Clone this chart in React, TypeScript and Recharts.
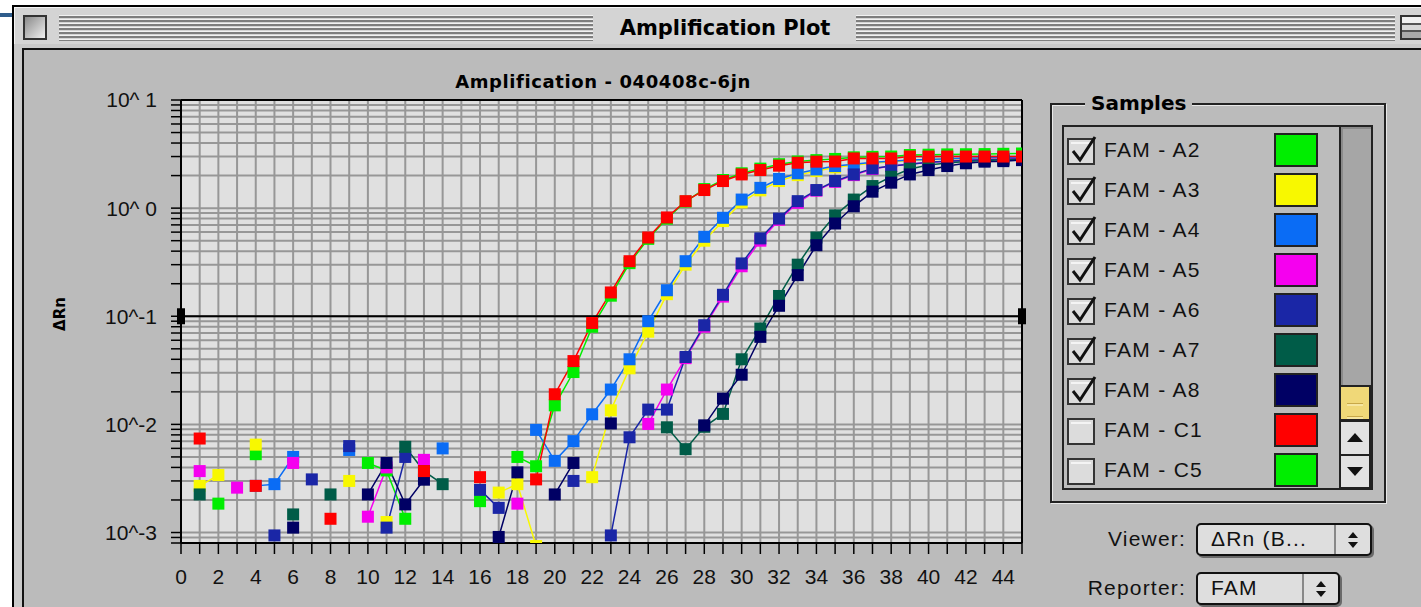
import React from 'react';
import {
    LineChart,
    Line,
    XAxis,
    YAxis,
    CartesianGrid,
    ReferenceLine,
    ReferenceDot,
} from 'recharts';

// cycle numbers
const cycles = [
    1, 2, 3, 4, 5, 6, 7, 8, 9, 10, 11, 12, 13, 14, 15, 16, 17, 18, 19, 20, 21, 22, 23,
    24, 25, 26, 27, 28, 29, 30, 31, 32, 33, 34, 35, 36, 37, 38, 39, 40, 41, 42, 43, 44, 45,
];

// delta Rn per cycle (null = negative, not drawn on the log axis)
const famA2 = [
    null, 0.00185, null, 0.0053, null, null, null, null, null, 0.0044,
    0.00375, 0.00134, null, null, null, 0.00195, null, 0.005, 0.0041, 0.015,
    0.0305, 0.08, 0.155, 0.31, 0.52, 0.8, 1.15, 1.5, 1.82, 2.1,
    2.32, 2.55, 2.7, 2.78, 2.85, 2.95, 2.98, 3.0, 3.1, 3.12,
    3.14, 3.15, 3.16, 3.18, 3.2,
];
const famA3 = [
    0.0027, 0.0034, null, 0.0065, null, null, null, null, 0.003, null,
    0.00125, null, null, null, null, null, 0.00234, 0.0028, 0.00075, null,
    null, 0.00325, 0.0135, 0.033, 0.072, 0.16, 0.3, 0.5, 0.76, 1.13,
    1.46, 1.78, 2.02, 2.2, 2.38, 2.5, 2.6, 2.68, 2.75, 2.8,
    2.85, 2.88, 2.9, 2.92, 2.95,
];
const famA4 = [
    null, null, null, 0.0027, 0.0028, 0.005, null, null, 0.0058, null,
    null, null, null, 0.006, null, null, null, null, 0.0089, 0.0046,
    0.007, 0.0124, 0.021, 0.04, 0.09, 0.174, 0.323, 0.543, 0.814, 1.2,
    1.54, 1.86, 2.1, 2.28, 2.45, 2.55, 2.65, 2.72, 2.78, 2.82,
    2.86, 2.9, 2.92, 2.94, 2.96,
];
const famA5 = [
    0.0037, null, 0.0026, null, null, 0.0044, null, null, null, 0.0014,
    0.004, null, 0.0047, null, null, null, null, 0.00185, null, null,
    null, null, null, null, 0.0101, 0.021, 0.041, 0.08, 0.152, 0.29,
    0.5, 0.78, 1.12, 1.45, 1.75, 2.02, 2.3, 2.45, 2.55, 2.65,
    2.72, 2.78, 2.82, 2.85, 2.88,
];
const famA6 = [
    null, null, null, null, 0.00094, null, 0.0031, null, 0.0063, null,
    0.00111, 0.005, null, null, null, 0.00248, 0.00169, null, null, null,
    0.003, null, 0.00094, 0.0076, 0.0137, 0.0137, 0.042, 0.0826, 0.158, 0.308,
    0.525, 0.8, 1.16, 1.47, 1.78, 2.05, 2.33, 2.45, 2.55, 2.65,
    2.72, 2.76, 2.8, 2.82, 2.85,
];
const famA7 = [
    0.00225, null, null, null, null, 0.00147, null, 0.00225, null, null,
    null, 0.0062, 0.0037, 0.0028, null, null, null, null, null, null,
    null, null, null, null, null, 0.0094, 0.0059, 0.0095, 0.0125, 0.04,
    0.077, 0.154, 0.3, 0.535, 0.857, 1.2, 1.6, 1.95, 2.3, 2.5,
    2.62, 2.7, 2.75, 2.8, 2.82,
];
const famA8 = [
    null, null, null, null, null, 0.00111, null, null, null, 0.00225,
    0.0044, 0.00182, 0.00308, null, null, null, 0.00091, 0.0036, null, 0.00225,
    0.0044, null, 0.0102, null, null, null, null, 0.0098, 0.0173, 0.0288,
    0.0645, 0.125, 0.24, 0.454, 0.721, 1.04, 1.42, 1.72, 2.05, 2.25,
    2.45, 2.6, 2.69, 2.72, 2.78,
];
const famC1 = [
    0.0074, null, null, 0.0027, null, null, null, 0.00134, null, null,
    null, null, 0.0037, null, null, 0.00325, null, null, 0.0031, 0.019,
    0.0385, 0.0867, 0.166, 0.323, 0.535, 0.82, 1.16, 1.47, 1.78, 2.05,
    2.25, 2.47, 2.63, 2.69, 2.7, 2.88, 2.88, 2.88, 3.0, 3.0,
    3.0, 3.0, 3.0, 3.0, 3.0,
];

const seriesKeys = ['a2', 'a3', 'a4', 'a5', 'a6', 'a7', 'a8', 'c1'];
const seriesColors = ['#00ee00', '#f8f800', '#0a6cf5', '#f500ef', '#1a26a6', '#005c48', '#000064', '#ff0000'];

// list on the right
const sampleNames = ['FAM - A2', 'FAM - A3', 'FAM - A4', 'FAM - A5', 'FAM - A6', 'FAM - A7', 'FAM - A8', 'FAM - C1', 'FAM - C5'];
const sampleColors = ['#00ee00', '#f8f800', '#0a6cf5', '#f500ef', '#1a26a6', '#005c48', '#000064', '#ff0000', '#00ee00'];
const sampleChecked = [true, true, true, true, true, true, true, false, false];

const xTicks = [
    0, 1, 2, 3, 4, 5, 6, 7, 8, 9, 10, 11, 12, 13, 14, 15, 16, 17, 18, 19, 20, 21, 22, 23,
    24, 25, 26, 27, 28, 29, 30, 31, 32, 33, 34, 35, 36, 37, 38, 39, 40, 41, 42, 43, 44, 45,
];
const decades = [0.001, 0.01, 0.1, 1, 10];
const decadeLabels = ['10^-3', '10^-2', '10^-1', '10^ 0', '10^ 1'];

const yTicks: number[] = [0.0008, 0.0009];
decades.slice(0, 4).forEach((d) => {
    for (let m = 1; m < 10; m++) yTicks.push(m * d);
});
yTicks.push(10);

const data = cycles.map((c, i) => ({
    cycle: c,
    a2: famA2[i],
    a3: famA3[i],
    a4: famA4[i],
    a5: famA5[i],
    a6: famA6[i],
    a7: famA7[i],
    a8: famA8[i],
    c1: famC1[i],
}));

const FONT = '"Liberation Sans", Arial, sans-serif';
const BOLD_FONT = '"DejaVu Sans", "Liberation Sans", sans-serif';

const fmtY = (v: number) => {
    const i = decades.findIndex((d) => Math.abs(v - d) / d < 1e-6);
    return i >= 0 ? decadeLabels[i] : '';
};
const fmtX = (v: number) => (v % 2 === 0 && v <= 44 ? String(v) : '');

const squareDot = (color: string) => (props: any) => {
    const { cx, cy, value, index } = props;
    if (value == null || cx == null || cy == null || Number.isNaN(cy)) return <g key={index} />;
    return <rect key={index} x={cx - 6} y={cy - 6} width={12} height={12} fill={color} />;
};

const thresholdMark = (props: any) => (
    <rect x={props.cx - 4} y={props.cy - 8} width={8} height={16} fill="#000" />
);

function CheckBox({ checked, top }: { checked: boolean; top: number }) {
    return (
        <svg style={{ position: 'absolute', left: 1066, top: top - 16 }} width={34} height={32}>
            <rect x={2} y={5} width={26} height={25} fill="#dcdcdc" stroke="#333" strokeWidth={2} />
            <rect x={5} y={8} width={20} height={2} fill="#f4f4f4" />
            {checked && (
                <path d="M7 17 L14 26 L29 3" fill="none" stroke="#111" strokeWidth={3} />
            )}
        </svg>
    );
}

function PopupArrows({ left, top }: { left: number; top: number }) {
    return (
        <svg style={{ position: 'absolute', left, top }} width={16} height={20}>
            <path d="M3 8 L8 2 L13 8 Z" fill="#111" />
            <path d="M3 12 L8 18 L13 12 Z" fill="#111" />
        </svg>
    );
}

const stripes = 'repeating-linear-gradient(to bottom, #f2f2f2 0px, #f2f2f2 1.5px, #7e7e7e 1.5px, #7e7e7e 3px, #d4d4d4 3px, #d4d4d4 4px)';

export default function App() {
    return (
        <div
            style={{
                position: 'absolute',
                left: 0,
                top: 0,
                width: 1421,
                height: 607,
                overflow: 'hidden',
                background: '#ffffff',
                fontFamily: FONT,
            }}
        >
            {/* blue stub at the far left */}
            <div style={{ position: 'absolute', left: 0, top: 13, width: 13, height: 4, background: '#2f5d8c' }} />

            {/* window frame */}
            <div
                style={{
                    position: 'absolute',
                    left: 12,
                    top: 5,
                    width: 1420,
                    height: 610,
                    background: '#c9c9c9',
                    borderLeft: '2px solid #000',
                    borderTop: '2px solid #000',
                    boxSizing: 'border-box',
                }}
            />
            {/* title bar */}
            <div
                style={{
                    position: 'absolute',
                    left: 14,
                    top: 7,
                    width: 1410,
                    height: 37,
                    background: '#d4d4d4',
                    borderTop: '1px solid #f4f4f4',
                    borderLeft: '1px solid #f4f4f4',
                    boxSizing: 'border-box',
                }}
            />
            <div
                style={{
                    position: 'absolute',
                    left: 23,
                    top: 15,
                    width: 24,
                    height: 25,
                    boxSizing: 'border-box',
                    border: '2px solid #333',
                    background: 'linear-gradient(135deg, #8a8a8a, #f0f0f0)',
                }}
            />
            <div style={{ position: 'absolute', left: 59, top: 15, width: 534, height: 26, background: stripes }} />
            <div style={{ position: 'absolute', left: 856, top: 15, width: 539, height: 26, background: stripes }} />
            <div
                style={{
                    position: 'absolute',
                    left: 596,
                    top: 13,
                    width: 258,
                    textAlign: 'center',
                    fontWeight: 'bold',
                    fontFamily: BOLD_FONT,
                    fontSize: 21,
                    lineHeight: '30px',
                    color: '#000',
                }}
            >
                Amplification Plot
            </div>
            <div
                style={{
                    position: 'absolute',
                    left: 1400,
                    top: 15,
                    width: 26,
                    height: 25,
                    boxSizing: 'border-box',
                    border: '2px solid #333',
                    background: 'linear-gradient(to bottom, #f0f0f0 0 30%, #555 30% 38%, #d8d8d8 38% 62%, #555 62% 70%, #aaa 70%)',
                }}
            />

            {/* content panel */}
            <div
                style={{
                    position: 'absolute',
                    left: 22,
                    top: 48,
                    width: 1410,
                    height: 570,
                    background: '#bbbbbb',
                    borderLeft: '2px solid #111',
                    borderTop: '2px solid #111',
                    boxSizing: 'border-box',
                }}
            />

            {/* chart title and y label */}
            <div
                style={{
                    position: 'absolute',
                    left: 403,
                    top: 70,
                    width: 400,
                    textAlign: 'center',
                    fontWeight: 'bold',
                    fontFamily: BOLD_FONT,
                    fontSize: 18,
                    letterSpacing: 0.6,
                    lineHeight: '24px',
                    color: '#000',
                }}
            >
                Amplification - 040408c-6jn
            </div>
            <div
                style={{
                    position: 'absolute',
                    left: 30,
                    top: 304,
                    width: 60,
                    textAlign: 'center',
                    fontWeight: 'bold',
                    fontFamily: BOLD_FONT,
                    fontSize: 15,
                    lineHeight: '20px',
                    transform: 'rotate(-90deg)',
                    color: '#000',
                }}
            >
                ΔRn
            </div>

            {/* chart */}
            <div style={{ position: 'absolute', left: 0, top: 60 }}>
                <LineChart
                    width={1040}
                    height={544}
                    data={data}
                    margin={{ top: 40, right: 18, bottom: 0, left: 0 }}
                >
                    <CartesianGrid stroke="#979797" strokeWidth={2} fill="#e0e0e0" fillOpacity={1} />
                    <XAxis
                        type="number"
                        dataKey="cycle"
                        domain={[0, 45]}
                        allowDataOverflow
                        ticks={xTicks}
                        interval={0}
                        tickFormatter={fmtX}
                        height={61}
                        tickSize={11}
                        tickMargin={15}
                        axisLine={{ stroke: '#000', strokeWidth: 2 }}
                        tickLine={{ stroke: '#000', strokeWidth: 1.5 }}
                        tick={{ fill: '#111', fontSize: 21, fontFamily: FONT }}
                    />
                    <YAxis
                        type="number"
                        scale="log"
                        domain={[0.0008, 10]}
                        allowDataOverflow
                        ticks={yTicks}
                        interval={0}
                        tickFormatter={fmtY}
                        width={181}
                        tickSize={10}
                        tickMargin={14}
                        axisLine={{ stroke: '#000', strokeWidth: 2 }}
                        tickLine={{ stroke: '#000', strokeWidth: 1.5 }}
                        tick={{ fill: '#111', fontSize: 21, fontFamily: FONT }}
                    />
                    <ReferenceLine y={10} stroke="#000" strokeWidth={2} />
                    <ReferenceLine x={45} stroke="#000" strokeWidth={2} />
                    {seriesKeys.map((k, i) => (
                        <Line
                            key={k}
                            type="linear"
                            dataKey={k}
                            stroke={seriesColors[i]}
                            strokeWidth={1.5}
                            dot={squareDot(seriesColors[i])}
                            activeDot={false}
                            connectNulls={false}
                            isAnimationActive={false}
                        />
                    ))}
                    <ReferenceLine y={0.1} stroke="#000" strokeWidth={2} />
                    <ReferenceDot x={0} y={0.1} shape={thresholdMark} />
                    <ReferenceDot x={45} y={0.1} shape={thresholdMark} />
                </LineChart>
            </div>

            {/* Samples group */}
            <div
                style={{
                    position: 'absolute',
                    left: 1050,
                    top: 103,
                    width: 336,
                    height: 400,
                    boxSizing: 'border-box',
                    border: '2px solid #222',
                    boxShadow: 'inset 1px 1px 0 #e8e8e8, 1px 1px 0 #e8e8e8',
                }}
            />
            <div
                style={{
                    position: 'absolute',
                    left: 1085,
                    top: 89,
                    padding: '0 6px',
                    background: '#bbbbbb',
                    fontWeight: 'bold',
                    fontFamily: BOLD_FONT,
                    fontSize: 20,
                    lineHeight: '28px',
                    color: '#000',
                }}
            >
                Samples
            </div>
            <div
                style={{
                    position: 'absolute',
                    left: 1062,
                    top: 125,
                    width: 311,
                    height: 365,
                    boxSizing: 'border-box',
                    border: '2px solid #222',
                    overflow: 'hidden',
                    background: '#bcbcbc',
                }}
            />
            {sampleNames.map((name, i) => {
                const cy = 150 + i * 40;
                return (
                    <React.Fragment key={name}>
                        <CheckBox checked={sampleChecked[i]} top={cy} />
                        <div
                            style={{
                                position: 'absolute',
                                left: 1104,
                                top: cy - 13,
                                fontSize: 21,
                                letterSpacing: 1.3,
                                lineHeight: '26px',
                                color: '#111',
                            }}
                        >
                            {name}
                        </div>
                        <div
                            style={{
                                position: 'absolute',
                                left: 1274,
                                top: cy - 17,
                                width: 44,
                                height: Math.min(34, 488 - (cy - 17)),
                                boxSizing: 'border-box',
                                border: '2px solid #222',
                                borderBottomWidth: cy - 17 + 34 > 488 ? 0 : 2,
                                background: sampleColors[i],
                            }}
                        />
                    </React.Fragment>
                );
            })}
            {/* scrollbar */}
            <div
                style={{
                    position: 'absolute',
                    left: 1339,
                    top: 127,
                    width: 32,
                    height: 259,
                    background: '#a6a6a6',
                    borderLeft: '2px solid #222',
                    boxSizing: 'border-box',
                    boxShadow: 'inset 2px 2px 0 #8a8a8a',
                }}
            />
            <div
                style={{
                    position: 'absolute',
                    left: 1339,
                    top: 385,
                    width: 32,
                    height: 36,
                    boxSizing: 'border-box',
                    border: '2px solid #222',
                    background: 'repeating-linear-gradient(to bottom, #f0d878 0 10px, #c8a848 10px 11px, #f6e6a0 11px 13px)',
                    backgroundSize: '16px 26px',
                    backgroundPosition: 'center 6px',
                    backgroundRepeat: 'no-repeat',
                    backgroundColor: '#f0d878',
                }}
            />
            <div
                style={{
                    position: 'absolute',
                    left: 1339,
                    top: 420,
                    width: 32,
                    height: 36,
                    boxSizing: 'border-box',
                    border: '2px solid #222',
                    background: '#e2e2e2',
                }}
            />
            <svg style={{ position: 'absolute', left: 1345, top: 428 }} width={20} height={20}>
                <path d="M2 14 L10 5 L18 14 Z" fill="#111" />
            </svg>
            <div
                style={{
                    position: 'absolute',
                    left: 1339,
                    top: 454,
                    width: 32,
                    height: 35,
                    boxSizing: 'border-box',
                    border: '2px solid #222',
                    background: '#e2e2e2',
                }}
            />
            <svg style={{ position: 'absolute', left: 1345, top: 461 }} width={20} height={20}>
                <path d="M2 6 L10 15 L18 6 Z" fill="#111" />
            </svg>

            {/* viewer / reporter popups */}
            <div
                style={{
                    position: 'absolute',
                    left: 1040,
                    top: 526,
                    width: 146,
                    textAlign: 'right',
                    fontSize: 21,
                    letterSpacing: 1.2,
                    lineHeight: '26px',
                    color: '#111',
                }}
            >
                Viewer:
            </div>
            <div
                style={{
                    position: 'absolute',
                    left: 1196,
                    top: 523,
                    width: 176,
                    height: 33,
                    boxSizing: 'border-box',
                    border: '2px solid #111',
                    borderRadius: 5,
                    background: '#dedede',
                    boxShadow: '2px 2px 0 #6a6a6a',
                }}
            />
            <div
                style={{
                    position: 'absolute',
                    left: 1211,
                    top: 526,
                    fontSize: 21,
                    letterSpacing: 1.2,
                    lineHeight: '26px',
                    color: '#111',
                }}
            >
                ΔRn (B...
            </div>
            <div style={{ position: 'absolute', left: 1334, top: 525, width: 2, height: 29, background: '#888' }} />
            <PopupArrows left={1345} top={530} />

            <div
                style={{
                    position: 'absolute',
                    left: 1040,
                    top: 575,
                    width: 146,
                    textAlign: 'right',
                    fontSize: 21,
                    letterSpacing: 1.2,
                    lineHeight: '26px',
                    color: '#111',
                }}
            >
                Reporter:
            </div>
            <div
                style={{
                    position: 'absolute',
                    left: 1196,
                    top: 572,
                    width: 144,
                    height: 33,
                    boxSizing: 'border-box',
                    border: '2px solid #111',
                    borderRadius: 5,
                    background: '#dedede',
                    boxShadow: '2px 2px 0 #6a6a6a',
                }}
            />
            <div
                style={{
                    position: 'absolute',
                    left: 1211,
                    top: 575,
                    fontSize: 21,
                    letterSpacing: 1.2,
                    lineHeight: '26px',
                    color: '#111',
                }}
            >
                FAM
            </div>
            <div style={{ position: 'absolute', left: 1302, top: 574, width: 2, height: 29, background: '#888' }} />
            <PopupArrows left={1313} top={579} />
        </div>
    );
}
